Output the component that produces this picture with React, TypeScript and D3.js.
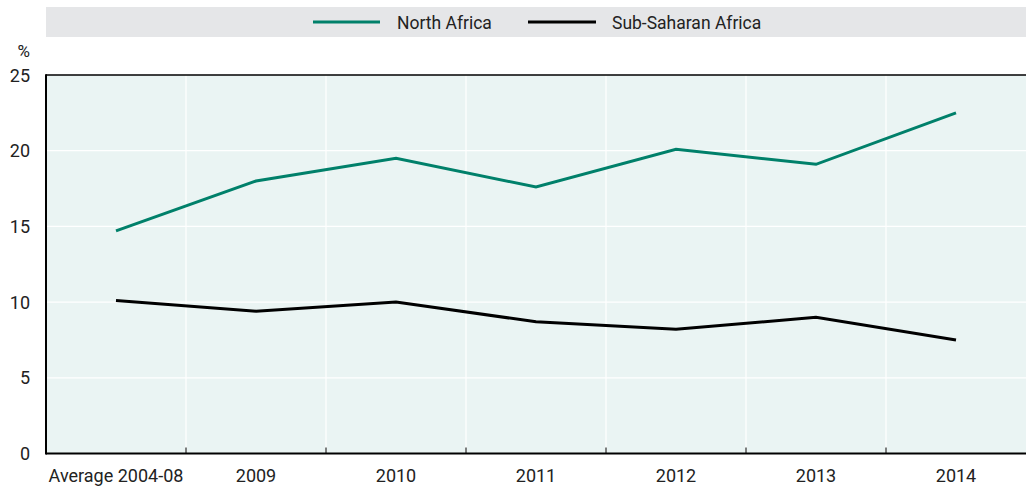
import React from "react";
import * as d3 from "d3";

const categories = ["Average 2004-08", "2009", "2010", "2011", "2012", "2013", "2014"];
const northAfrica = [14.7, 18.0, 19.5, 17.6, 20.1, 19.1, 22.5];
const subSaharan = [10.1, 9.4, 10.0, 8.7, 8.2, 9.0, 7.5];
const yTicks = [0, 5, 10, 15, 20, 25];
const seriesNames = ["North Africa", "Sub-Saharan Africa"];
const seriesColors = ["#00806A", "#000000"];

const W = 1026, H = 487;
const left = 46, right = 1026, top = 75, bottom = 453.5;
const FONT = "Roboto, 'Liberation Sans', sans-serif";

export default function App() {
  const x = d3.scaleBand<string>().domain(categories).range([left, right]).padding(0);
  const y = d3.scaleLinear().domain([0, 25]).range([bottom, top]);
  const line = d3
    .line<number>()
    .x((_, i) => (x(categories[i]) as number) + x.bandwidth() / 2)
    .y((d) => y(d));
  const series = [northAfrica, subSaharan];
  const boundaries = categories.slice(1).map((c) => x(c) as number);

  return (
    <svg width={W} height={H} style={{ position: "absolute", left: 0, top: 0 }} fontFamily={FONT}>
      <rect x={0} y={0} width={W} height={H} fill="#fff" />
      {/* legend */}
      <rect x={46} y={7} width={980} height={30} fill="#E5E6E8" />
      <line x1={313} x2={380} y1={22} y2={22} stroke={seriesColors[0]} strokeWidth={3} />
      <text x={397} y={28.5} fontSize={17.5} fill="#222">{seriesNames[0]}</text>
      <line x1={528} x2={596} y1={22} y2={22} stroke={seriesColors[1]} strokeWidth={3} />
      <text x={612} y={28.5} fontSize={17.5} fill="#222">{seriesNames[1]}</text>

      {/* plot background */}
      <rect x={left} y={top} width={right - left} height={bottom - top} fill="#EAF4F3" />
      {yTicks.filter((t) => t > 0 && t < 25).map((t) => (
        <line key={t} x1={left} x2={right} y1={y(t)} y2={y(t)} stroke="#fff" strokeWidth={1.2} />
      ))}
      {boundaries.map((b, i) => (
        <line key={i} x1={b} x2={b} y1={top} y2={bottom} stroke="#fff" strokeWidth={1.2} />
      ))}
      {boundaries.map((b, i) => (
        <line key={"t" + i} x1={b} x2={b} y1={bottom - 6} y2={bottom} stroke="#000" strokeWidth={1} />
      ))}
      <line x1={left} x2={right} y1={top} y2={top} stroke="#000" strokeWidth={1.5} />
      <line x1={left} x2={right} y1={bottom} y2={bottom} stroke="#000" strokeWidth={2} />
      <line x1={left} x2={left} y1={top - 0.75} y2={bottom + 1} stroke="#000" strokeWidth={2} />

      {/* y labels */}
      <text x={30} y={57} fontSize={17} textAnchor="end" fill="#222">%</text>
      {yTicks.map((t) => (
        <text key={t} x={30} y={y(t) + 6.5} fontSize={18} textAnchor="end" fill="#222">{t}</text>
      ))}
      {/* x labels */}
      {categories.map((c) => (
        <text key={c} x={(x(c) as number) + x.bandwidth() / 2} y={481.5} fontSize={18} textAnchor="middle" fill="#222">{c}</text>
      ))}

      {series.map((s, i) => (
        <path key={i} d={line(s) || ""} fill="none" stroke={seriesColors[i]} strokeWidth={3} strokeLinejoin="miter" />
      ))}
    </svg>
  );
}
